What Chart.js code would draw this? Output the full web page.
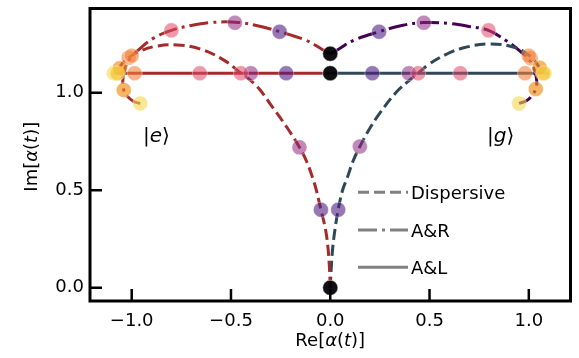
<!DOCTYPE html>
<html>
<head>
<meta charset="utf-8">
<script src="https://cdn.jsdelivr.net/npm/chart.js@4.4.1/dist/chart.umd.min.js"></script>
<style>
  html, body { margin: 0; padding: 0; background: #fff; }
  #wrap { width: 579px; height: 358px; }
</style>
</head>
<body>
<div id="wrap"><canvas id="chart"></canvas></div>
<script>
// axis ticks
const xTicks = [-1.0, -0.5, 0.0, 0.5, 1.0];
const yTicks = [0.0, 0.5, 1.0];

// Dispersive, |e> and |g>
const dispE_re = [0, -0.004, -0.011, -0.024, -0.047, -0.07, -0.09, -0.12, -0.155, -0.21, -0.29, -0.372, -0.45, -0.54, -0.657, -0.773, -0.88, -0.957, -1.015, -1.055, -1.075];
const dispE_im = [0, 0.1, 0.2, 0.3, 0.40, 0.5, 0.568, 0.65, 0.72, 0.81, 0.925, 1.036, 1.10, 1.17, 1.225, 1.245, 1.238, 1.214, 1.18, 1.14, 1.10];
const dispG_re = [0, 0.005, 0.012, 0.024, 0.04, 0.062, 0.087, 0.115, 0.149, 0.195, 0.246, 0.33, 0.40, 0.443, 0.496, 0.58, 0.663, 0.797, 0.93, 1.01, 1.05, 1.075];
const dispG_im = [0, 0.1, 0.2, 0.3, 0.40, 0.5, 0.568, 0.65, 0.724, 0.81, 0.89, 1.0, 1.065, 1.10, 1.145, 1.195, 1.228, 1.25, 1.232, 1.185, 1.135, 1.10];

// A&R
const arE_re = [0, -0.04, -0.12, -0.255, -0.372, -0.48, -0.6, -0.70, -0.80, -0.89, -0.96, -1.005, -1.035, -1.045, -1.04, -1.02, -0.99, -0.957];
const arE_im = [1.2, 1.222, 1.268, 1.313, 1.345, 1.362, 1.36, 1.345, 1.32, 1.28, 1.225, 1.18, 1.12, 1.06, 1.014, 0.98, 0.955, 0.945];
const arG_re = [0, 0.04, 0.12, 0.246, 0.36, 0.471, 0.6, 0.70, 0.797, 0.889, 0.96, 1.005, 1.03, 1.04, 1.035, 1.015, 0.99, 0.951];
const arG_im = [1.2, 1.222, 1.27, 1.313, 1.345, 1.36, 1.355, 1.34, 1.32, 1.265, 1.21, 1.165, 1.11, 1.06, 1.019, 0.985, 0.96, 0.945];

// A&L
const alE_re = [0, -1.095];
const alE_im = [1.1, 1.1];
const alG_re = [0, 1.1];
const alG_im = [1.1, 1.1];

// markers at the sampled times (t0 .. t6)
const mDispE_re = [0, -0.047, -0.155, -0.45, -1.0, -1.06, -1.075];
const mDispE_im = [0, 0.40, 0.72, 1.10, 1.19, 1.125, 1.10];
const mDispG_re = [0, 0.04, 0.149, 0.443, 1.0, 1.055, 1.075];
const mDispG_im = [0, 0.40, 0.724, 1.10, 1.19, 1.128, 1.10];
const mArE_re = [0, -0.255, -0.48, -0.80, -1.015, -1.04, -0.957];
const mArE_im = [1.2, 1.313, 1.359, 1.32, 1.18, 1.014, 0.945];
const mArG_re = [0, 0.246, 0.471, 0.797, 1.01, 1.035, 0.951];
const mArG_im = [1.2, 1.313, 1.359, 1.32, 1.177, 1.019, 0.945];
const mAlE_re = [0, -0.222, -0.40, -0.657, -0.985, -1.07, -1.09];
const mAlE_im = [1.1, 1.1, 1.1, 1.1, 1.1, 1.1, 1.1];
const mAlG_re = [0, 0.212, 0.396, 0.655, 0.981, 1.07, 1.08];
const mAlG_im = [1.1, 1.1, 1.1, 1.1, 1.1, 1.1, 1.1];

const legendLabels = ['Dispersive', 'A&R', 'A&L'];

// colours
const timeColors = [
  'rgba(0,0,4,0.75)', 'rgba(80,30,130,0.6)', 'rgba(140,40,129,0.55)',
  'rgba(222,73,104,0.55)', 'rgba(243,130,60,0.6)', 'rgba(240,140,20,0.65)', 'rgba(245,215,80,0.6)'
];
const colE = '#a52a2a';
const colG = '#2f4858';
const colArG = '#440154';
const DASH = [11, 5];
const DASHDOT = [19, 5, 3, 5];

const pts = (re, im) => re.map((v, i) => ({ x: v, y: im[i] }));

function line(re, im, color, dash) {
  return {
    type: 'line', data: pts(re, im), borderColor: color, borderWidth: 3,
    borderDash: dash, tension: 0.4, pointRadius: 0, fill: false, order: 2
  };
}
function marks(re, im) {
  return {
    type: 'scatter', data: pts(re, im), backgroundColor: timeColors,
    borderColor: 'rgba(255,255,255,0.35)', borderWidth: 1, pointRadius: 7.5, order: 1
  };
}

Chart.defaults.font.family = 'DejaVu Sans';
Chart.defaults.font.size = 18;
Chart.defaults.color = '#000';

// text with italic parts, like mathtext
function rich(ctx, parts, x, y, size, align) {
  const fonts = parts.map(p => (p[1] ? 'italic ' : '') + size + 'px "DejaVu Sans"');
  let w = 0;
  parts.forEach((p, i) => { ctx.font = fonts[i]; w += ctx.measureText(p[0]).width; });
  let cx = align === 'center' ? x - w / 2 : x;
  ctx.textAlign = 'left';
  ctx.textBaseline = 'alphabetic';
  parts.forEach((p, i) => { ctx.font = fonts[i]; ctx.fillText(p[0], cx, y); cx += ctx.measureText(p[0]).width; });
}

const decor = {
  id: 'decor',
  afterDraw(chart) {
    const { ctx, chartArea: a, scales: { x, y } } = chart;
    ctx.save();
    ctx.strokeStyle = '#000';
    ctx.fillStyle = '#000';
    // inward ticks
    ctx.lineWidth = 2.5;
    xTicks.forEach(v => {
      const px = x.getPixelForValue(v);
      ctx.beginPath(); ctx.moveTo(px, a.bottom); ctx.lineTo(px, a.bottom - 12); ctx.stroke();
    });
    yTicks.forEach(v => {
      const py = y.getPixelForValue(v);
      ctx.beginPath(); ctx.moveTo(a.left, py); ctx.lineTo(a.left + 12, py); ctx.stroke();
    });
    // frame
    ctx.lineWidth = 3;
    ctx.strokeRect(a.left, a.top, a.right - a.left, a.bottom - a.top);

    // axis titles
    rich(ctx, [['Re[', 0], ['α', 1], ['(', 0], ['t', 1], [')]', 0]], (a.left + a.right) / 2, 346, 18, 'center');
    ctx.save();
    ctx.translate(37, (a.top + a.bottom) / 2 + 2);
    ctx.rotate(-Math.PI / 2);
    rich(ctx, [['Im[', 0], ['α', 1], ['(', 0], ['t', 1], [')]', 0]], 0, 0, 18, 'center');
    ctx.restore();

    // state labels
    rich(ctx, [['|', 0], ['e', 1], ['⟩', 0]], 143, 141.5, 20, 'left');
    rich(ctx, [['|', 0], ['g', 1], ['⟩', 0]], 487, 141.5, 20, 'left');

    // legend
    const dashes = [DASH, DASHDOT, []];
    const rows = [192.3, 230, 267.3];
    legendLabels.forEach((lab, i) => {
      ctx.strokeStyle = '#808080';
      ctx.lineWidth = 3;
      ctx.setLineDash(dashes[i]);
      ctx.beginPath(); ctx.moveTo(358, rows[i]); ctx.lineTo(408, rows[i]); ctx.stroke();
      ctx.setLineDash([]);
      ctx.font = '18px "DejaVu Sans"';
      ctx.textAlign = 'left';
      ctx.textBaseline = 'alphabetic';
      ctx.fillText(lab, 411, rows[i] + 7);
    });
    ctx.restore();
  }
};

const fmt = v => v.toFixed(1).replace('-', '\u2212');

new Chart(document.getElementById('chart'), {
  data: {
    datasets: [
      marks(mDispE_re, mDispE_im), marks(mDispG_re, mDispG_im),
      marks(mArE_re, mArE_im), marks(mArG_re, mArG_im),
      marks(mAlE_re, mAlE_im), marks(mAlG_re, mAlG_im),
      line(dispE_re, dispE_im, colE, DASH), line(dispG_re, dispG_im, colG, DASH),
      line(arE_re, arE_im, colE, DASHDOT), line(arG_re, arG_im, colArG, DASHDOT),
      line(alE_re, alE_im, colE, []), line(alG_re, alG_im, colG, [])
    ]
  },
  options: {
    responsive: true,
    maintainAspectRatio: false,
    devicePixelRatio: 1,
    animation: false,
    layout: { padding: { top: 7, right: 8, left: 0, bottom: 0 } },
    plugins: { legend: { display: false }, tooltip: { enabled: false } },
    scales: {
      x: {
        type: 'linear', min: -1.21, max: 1.21,
        grid: { display: false, drawTicks: false }, border: { display: false },
        ticks: { padding: 10, maxRotation: 0, autoSkip: false, callback: fmt },
        afterBuildTicks: s => { s.ticks = xTicks.map(v => ({ value: v })); },
        afterFit: s => { s.height = 57; s.paddingLeft = 0; s.paddingRight = 0; }
      },
      y: {
        type: 'linear', min: -0.068, max: 1.432,
        grid: { display: false, drawTicks: false }, border: { display: false },
        ticks: { padding: 6, autoSkip: false, callback: fmt },
        afterBuildTicks: s => { s.ticks = yTicks.map(v => ({ value: v })); },
        afterFit: s => { s.width = 90; s.paddingTop = 0; s.paddingBottom = 0; }
      }
    }
  },
  plugins: [decor]
});
</script>
</body>
</html>
